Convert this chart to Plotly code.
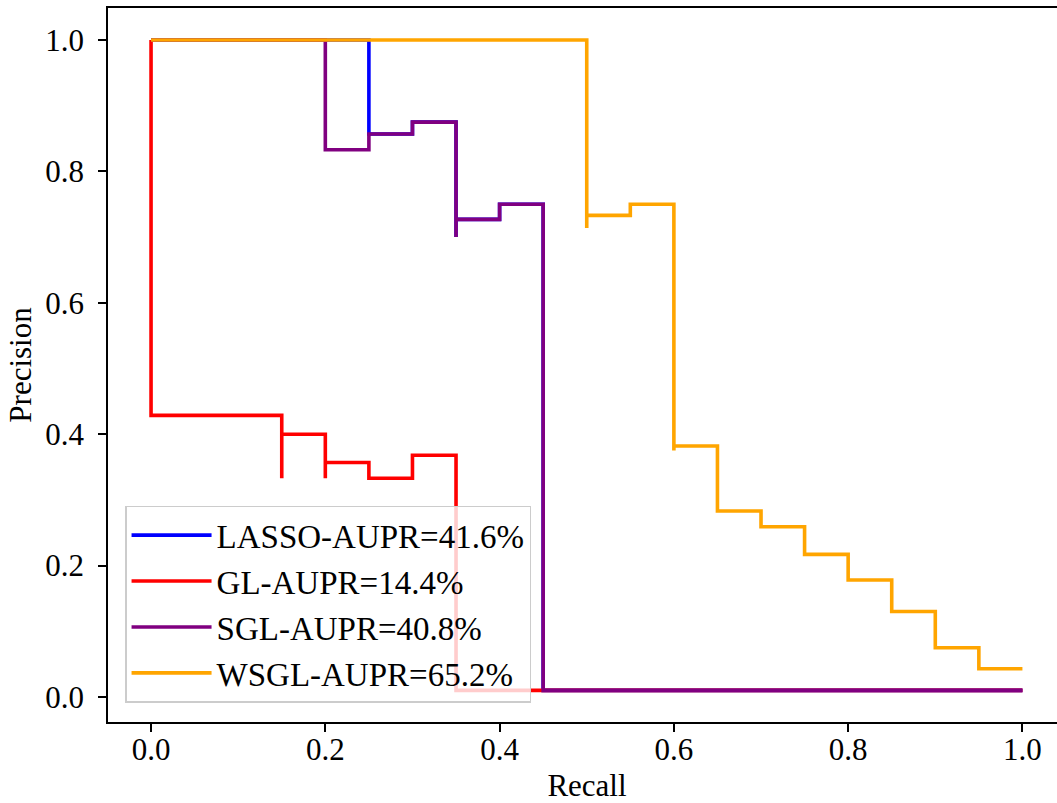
import plotly.graph_objects as go

# ---- data ----
labels = ["LASSO-AUPR=41.6%", "GL-AUPR=14.4%", "SGL-AUPR=40.8%", "WSGL-AUPR=65.2%"]
colors = ["#0000ff", "#ff0000", "#800080", "#ffa500"]

recall_lasso = [0.0, 0.25, 0.30, 0.35, 0.35, 0.40, 0.45, 1.0]
precision_lasso = [1.0, 1.0, 0.857, 0.875, 0.700, 0.727, 0.750, 0.010]

recall_gl = [0.0, 0.15, 0.15, 0.20, 0.20, 0.25, 0.30, 0.35, 1.0]
precision_gl = [1.0, 0.4286, 0.333, 0.400, 0.333, 0.357, 0.333, 0.368, 0.010]

recall_sgl = [0.0, 0.20, 0.25, 0.30, 0.35, 0.35, 0.40, 0.45, 1.0]
precision_sgl = [1.0, 1.0, 0.833, 0.857, 0.875, 0.700, 0.727, 0.750, 0.010]

recall_wsgl = [0.0, 0.50, 0.50, 0.55, 0.60, 0.60, 0.65, 0.70, 0.75, 0.80, 0.85, 0.90, 0.95, 1.0]
precision_wsgl = [1.0, 1.0, 0.714, 0.733, 0.750, 0.375, 0.382, 0.283, 0.259, 0.217, 0.178, 0.130, 0.075, 0.043]

tick_vals = [0.0, 0.2, 0.4, 0.6, 0.8, 1.0]
tick_text = ["0.0", "0.2", "0.4", "0.6", "0.8", "1.0"]

series = [
    (recall_lasso, precision_lasso),
    (recall_gl, precision_gl),
    (recall_sgl, precision_sgl),
    (recall_wsgl, precision_wsgl),
]

FONT = "Liberation Serif"

fig = go.Figure()
for (r, p), name, c in zip(series, labels, colors):
    fig.add_trace(go.Scatter(
        x=r, y=p, mode="lines", name=name,
        line=dict(color=c, width=3.6, shape="vh"),
    ))

axis_common = dict(
    showgrid=False, zeroline=False, showline=True, linecolor="black", linewidth=1.6,
    ticks="outside", ticklen=8, tickwidth=1.5, tickcolor="black",
    tickvals=tick_vals, ticktext=tick_text, automargin=False,
    tickfont=dict(family=FONT, size=31, color="black"),
)

fig.update_layout(
    width=1066, height=803,
    margin=dict(l=108, r=0, t=8, b=81),
    paper_bgcolor="white", plot_bgcolor="white",
    font=dict(family=FONT, size=31, color="black"),
    xaxis=dict(
        **axis_common, range=[-0.0494, 1.05], mirror=True,
        title=dict(text="Recall", font=dict(family=FONT, size=31), standoff=13),
        ticklabelstandoff=-9,
    ),
    yaxis=dict(
        **axis_common, range=[-0.0381, 1.0487], mirror=False,
        title=dict(text="Precision", font=dict(family=FONT, size=31), standoff=4),
        ticklabelstandoff=8,
    ),
    legend=dict(
        x=0.0178, y=0.027, xanchor="left", yanchor="bottom",
        bgcolor="rgba(255,255,255,0.8)", bordercolor="#cccccc", borderwidth=1.5,
        font=dict(family=FONT, size=33, color="black"),
        itemwidth=80, tracegroupgap=0,
    ),
    showlegend=True,
)

fig.write_html(
    "out.html",
    config={"displayModeBar": False},
    post_script=(
        "document.body.style.margin='0';document.body.style.padding='0';"
        "document.body.style.overflow='hidden';"
        "document.documentElement.style.overflow='hidden';"
    ),
)
